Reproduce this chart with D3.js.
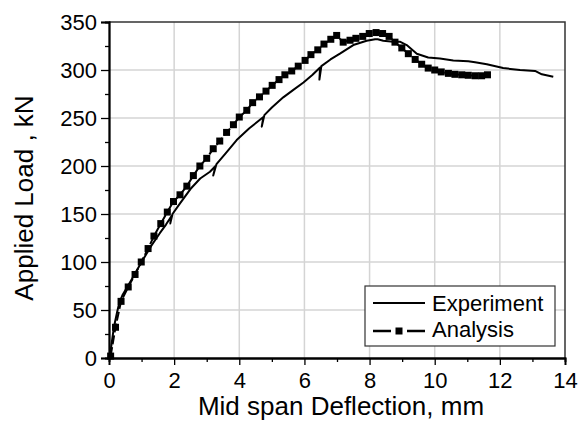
<!DOCTYPE html>
<html>
<head>
<meta charset="utf-8">
<script src="https://cdn.jsdelivr.net/npm/d3@7"></script>
<style>
  body { margin: 0; background: #fff; }
  text { font-family: "Liberation Sans", Arial, sans-serif; fill: #000; }
</style>
</head>
<body>
<div id="chart"></div>
<script>
// Data
// ==========================================
var expDeflection = [0.02, 0.08, 0.15, 0.25, 0.32, 0.42, 0.7, 1.0, 1.3, 1.56, 1.75, 1.92, 1.88, 1.95,
    2.18, 2.5, 2.8, 3.1, 3.27, 3.2, 3.3, 3.6, 3.92, 4.3, 4.74, 4.69, 4.77, 5.0, 5.35, 5.65, 5.97,
    6.25, 6.48, 6.46, 6.52, 6.8, 7.09, 7.5, 7.91, 8.17, 8.25, 8.42, 8.73, 8.93, 9.14, 9.45, 9.8,
    10.16, 10.57, 11.03, 11.24, 11.6, 12.1, 12.62, 13.08, 13.29, 13.64];
var expLoad = [0, 15, 32, 48, 58, 66, 82, 100, 117, 130, 139, 148, 140, 150,
    161, 176, 187, 194, 200, 190, 202, 214, 227, 239, 251, 241, 253, 261, 271.5, 279, 287,
    295, 302.6, 290, 304, 311, 317, 326, 330.5, 332, 332, 330.5, 329.5, 329.5, 326, 317, 313,
    312, 310, 309, 308, 306, 302, 300, 299, 295.5, 293];

var anaDeflection = [0.05, 0.2, 0.37, 0.59, 0.8, 0.99, 1.2, 1.38, 1.59, 1.79, 1.98, 2.18, 2.39,
    2.59, 2.79, 3.0, 3.2, 3.4, 3.61, 3.82, 4.0, 4.23, 4.41, 4.62, 4.82, 5.01, 5.22, 5.4, 5.61,
    5.81, 6.02, 6.2, 6.41, 6.6, 6.81, 6.99, 7.19, 7.4, 7.58, 7.79, 7.99, 8.2, 8.4, 8.6, 8.78,
    8.99, 9.19, 9.4, 9.6, 9.8, 10.0, 10.2, 10.42, 10.62, 10.83, 11.03, 11.24, 11.44, 11.62];
var anaLoad = [2, 32, 59, 74, 87, 100, 114, 127, 140, 152, 163, 170, 179,
    190, 200, 208, 218, 226, 235, 243, 251, 258, 266, 272, 278, 284, 290, 295, 299,
    304, 310, 316, 321, 327, 332, 336, 329, 331, 333, 335, 338, 339, 338, 335, 329,
    323, 317, 311, 306, 302, 300, 298, 296.5, 295.5, 295, 294.5, 294, 294, 295];

var xTicks = [0, 2, 4, 6, 8, 10, 12, 14];
var yTicks = [0, 50, 100, 150, 200, 250, 300, 350];
var seriesNames = ["Experiment", "Analysis"];

// Set up the chart
// ==========================================
var svgWidth = 587;
var svgHeight = 426;

var margin = { top: 22, right: 22, bottom: 68, left: 109 };

var width = svgWidth - margin.left - margin.right;
var height = svgHeight - margin.top - margin.bottom;

var svg = d3.select("#chart")
    .append("svg")
    .attr("width", svgWidth)
    .attr("height", svgHeight);

var chartGroup = svg.append("g")
    .attr("transform", `translate(${margin.left}, ${margin.top})`);

var xScale = d3.scaleLinear().domain([0, 14]).range([0, width]);
var yScale = d3.scaleLinear().domain([0, 350]).range([height, 0]);

// gridlines
chartGroup.append("g")
    .selectAll("line")
    .data(xTicks.slice(1, -1))
    .enter()
    .append("line")
    .attr("x1", d => xScale(d)).attr("x2", d => xScale(d))
    .attr("y1", 0).attr("y2", height)
    .attr("stroke", "#d4d4d4")
    .attr("stroke-width", 1.5);

chartGroup.append("g")
    .selectAll("line")
    .data(yTicks.slice(1, -1))
    .enter()
    .append("line")
    .attr("x1", 0).attr("x2", width)
    .attr("y1", d => yScale(d)).attr("y2", d => yScale(d))
    .attr("stroke", "#d4d4d4")
    .attr("stroke-width", 1.5);

// frame top/right
chartGroup.append("path")
    .attr("d", `M0,0H${width}V${height}`)
    .attr("fill", "none")
    .attr("stroke", "#333")
    .attr("stroke-width", 1.5);

// Axes
// ==========================================
var bottomAxis = d3.axisBottom(xScale).tickValues(xTicks).tickSize(7).tickPadding(7);
var leftAxis = d3.axisLeft(yScale).tickValues(yTicks).tickSize(8).tickPadding(4);

var xMinor = d3.axisBottom(xScale).tickValues(d3.range(1, 14, 2)).tickSize(4).tickFormat("");
var yMinor = d3.axisLeft(yScale).tickValues(d3.range(25, 350, 50)).tickSize(4).tickFormat("");

function styleAxis(g) {
    g.select(".domain").attr("stroke", "#000").attr("stroke-width", 1.8);
    g.selectAll(".tick line").attr("stroke", "#000").attr("stroke-width", 1.3);
    g.selectAll("text").style("font-size", "22px").attr("fill", "#000");
}

chartGroup.append("g")
    .attr("transform", `translate(0, ${height})`)
    .call(xMinor)
    .call(styleAxis);

chartGroup.append("g")
    .call(yMinor)
    .call(styleAxis);

chartGroup.append("g")
    .attr("transform", `translate(0, ${height})`)
    .call(bottomAxis)
    .call(styleAxis);

chartGroup.append("g")
    .call(leftAxis)
    .call(styleAxis);

// Lines
// ==========================================
var expData = expDeflection.map((d, i) => ({ x: d, y: expLoad[i] }));
var anaData = anaDeflection.map((d, i) => ({ x: d, y: anaLoad[i] }));

var line = d3.line()
    .x(d => xScale(d.x))
    .y(d => yScale(d.y));

chartGroup.append("path")
    .datum(anaData)
    .attr("d", line)
    .attr("fill", "none")
    .attr("stroke", "#000")
    .attr("stroke-width", 2)
    .attr("stroke-dasharray", "9,3");

var sq = 7;
chartGroup.append("g")
    .selectAll("rect")
    .data(anaData)
    .enter()
    .append("rect")
    .attr("x", d => xScale(d.x) - sq / 2)
    .attr("y", d => yScale(d.y) - sq / 2)
    .attr("width", sq)
    .attr("height", sq)
    .attr("fill", "#000");

chartGroup.append("path")
    .datum(expData)
    .attr("d", line)
    .attr("fill", "none")
    .attr("stroke", "#000")
    .attr("stroke-width", 2)
    .attr("stroke-linejoin", "round");

// Legend
// ==========================================
var legend = svg.append("g").attr("transform", "translate(365, 286)");

legend.append("rect")
    .attr("width", 190)
    .attr("height", 60)
    .attr("fill", "#fff")
    .attr("stroke", "#333")
    .attr("stroke-width", 1.2);

legend.append("line")
    .attr("x1", 8).attr("x2", 60)
    .attr("y1", 17).attr("y2", 17)
    .attr("stroke", "#000").attr("stroke-width", 2);

legend.append("line")
    .attr("x1", 8).attr("x2", 26)
    .attr("y1", 45).attr("y2", 45)
    .attr("stroke", "#000").attr("stroke-width", 2.5);
legend.append("line")
    .attr("x1", 42).attr("x2", 60)
    .attr("y1", 45).attr("y2", 45)
    .attr("stroke", "#000").attr("stroke-width", 2.5);
legend.append("rect")
    .attr("x", 34 - sq / 2).attr("y", 45 - sq / 2)
    .attr("width", sq).attr("height", sq)
    .attr("fill", "#000");

legend.selectAll("text.leg")
    .data(seriesNames)
    .enter()
    .append("text")
    .attr("class", "leg")
    .attr("x", 67)
    .attr("y", (d, i) => 25 + i * 25.5)
    .style("font-size", "22px")
    .text(d => d);

// Axis titles
// ==========================================
svg.append("text")
    .attr("x", margin.left + width / 2 + 4)
    .attr("y", 415)
    .style("text-anchor", "middle")
    .style("font-size", "26px")
    .text("Mid span Deflection, mm");

svg.append("text")
    .attr("transform", "rotate(-90)")
    .attr("x", -198)
    .attr("y", 33)
    .style("text-anchor", "middle")
    .style("font-size", "26px")
    .text("Applied Load , kN");
</script>
</body>
</html>
